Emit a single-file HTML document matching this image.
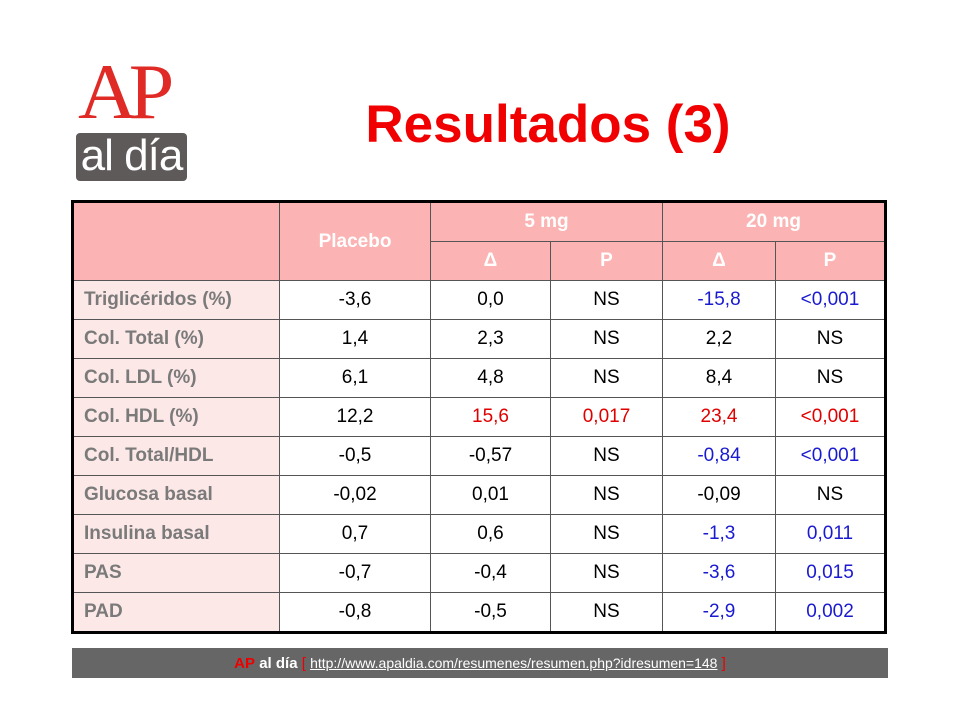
<!DOCTYPE html>
<html><head><meta charset="utf-8"><style>
body{margin:0;width:960px;height:720px;background:#fff;position:relative;overflow:hidden;font-family:"Liberation Sans",Arial,sans-serif}
.abs{position:absolute}
table{position:absolute;left:71px;top:200px;border-collapse:collapse;border:3px solid #000}
td{border:1px solid #555;text-align:center;font-size:19px;height:38px;padding:0;color:#000}
td.h{background:#fbb3b3;color:#fff;font-weight:bold}
td.l{background:#fde8e8;color:#7a7a7a;font-weight:bold;text-align:left;padding-left:10px}
.r{color:#e00000}.b{color:#1a1ad0}
</style></head><body>
<div class="abs" style="left:76px;top:60px;width:112px;height:122px">
<div style="position:absolute;left:2px;top:-6px;font-family:'Liberation Serif',serif;font-size:78px;color:#e02a26;letter-spacing:-8px;line-height:76px;transform:scaleX(1.05);transform-origin:left">AP</div>
<div style="position:absolute;left:0;top:73px;width:111px;height:48px;background:#5f5a5a;border-radius:4px;color:#fff;font-size:44px;line-height:46px;text-align:center;letter-spacing:-1px">al día</div>
</div>
<div class="abs" style="left:300px;top:94px;width:496px;text-align:center;color:#f00000;font-size:53px;font-weight:bold">Resultados (3)</div>
<table>
<colgroup><col style="width:207px"><col style="width:151px"><col style="width:120px"><col style="width:112px"><col style="width:113px"><col style="width:110px"></colgroup>
<tr><td class="h" rowspan="2"></td><td class="h" rowspan="2">Placebo</td><td class="h" colspan="2">5 mg</td><td class="h" colspan="2">20 mg</td></tr>
<tr><td class="h">Δ</td><td class="h">P</td><td class="h">Δ</td><td class="h">P</td></tr>
<tr><td class="l">Triglicéridos (%)</td><td>-3,6</td><td>0,0</td><td>NS</td><td class="b">-15,8</td><td class="b">&lt;0,001</td></tr>
<tr><td class="l">Col. Total (%)</td><td>1,4</td><td>2,3</td><td>NS</td><td>2,2</td><td>NS</td></tr>
<tr><td class="l">Col. LDL (%)</td><td>6,1</td><td>4,8</td><td>NS</td><td>8,4</td><td>NS</td></tr>
<tr><td class="l">Col. HDL (%)</td><td>12,2</td><td class="r">15,6</td><td class="r">0,017</td><td class="r">23,4</td><td class="r">&lt;0,001</td></tr>
<tr><td class="l">Col. Total/HDL</td><td>-0,5</td><td>-0,57</td><td>NS</td><td class="b">-0,84</td><td class="b">&lt;0,001</td></tr>
<tr><td class="l">Glucosa basal</td><td>-0,02</td><td>0,01</td><td>NS</td><td>-0,09</td><td>NS</td></tr>
<tr><td class="l">Insulina basal</td><td>0,7</td><td>0,6</td><td>NS</td><td class="b">-1,3</td><td class="b">0,011</td></tr>
<tr><td class="l">PAS</td><td>-0,7</td><td>-0,4</td><td>NS</td><td class="b">-3,6</td><td class="b">0,015</td></tr>
<tr><td class="l">PAD</td><td>-0,8</td><td>-0,5</td><td>NS</td><td class="b">-2,9</td><td class="b">0,002</td></tr>
</table>
<div class="abs" style="left:72px;top:648px;width:816px;height:30px;background:#666;text-align:center;line-height:30px;font-size:15px;color:#fff">
<span style="color:#e00;font-weight:bold">AP</span> <b>al día</b> <span style="color:#e00">[</span> <a style="color:#fff;text-decoration:underline;font-size:14px">http://www.apaldia.com/resumenes/resumen.php?idresumen=148</a> <span style="color:#e00">]</span>
</div>
</body></html>
